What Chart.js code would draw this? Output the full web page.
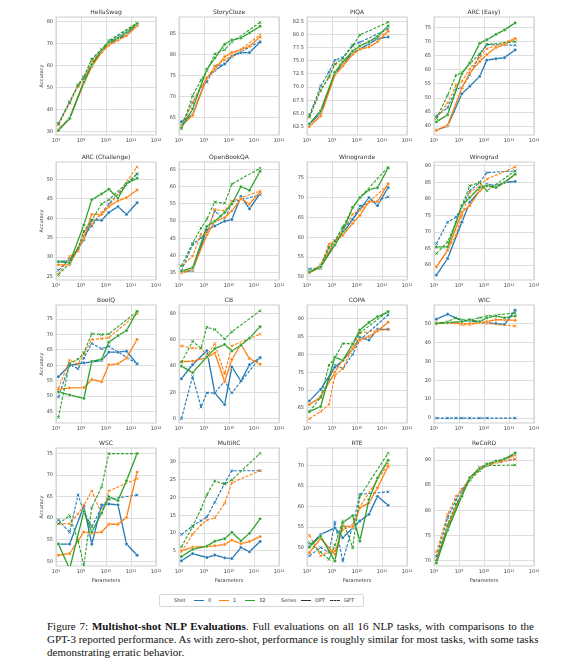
<!DOCTYPE html>
<html>
<head>
<meta charset="utf-8">
<script src="https://cdn.jsdelivr.net/npm/chart.js@4.4.1/dist/chart.umd.min.js"></script>
<style>
  body { margin: 0; background: #fff; width: 582px; height: 667px; position: relative; overflow: hidden; font-family: "DejaVu Sans", sans-serif; }
  canvas { position: absolute; }
  #legend { position: absolute; left: 159px; top: 594px; width: 203px; height: 11px; border: 1px solid #d6d6d6; border-radius: 2px; font-size: 5px; color: #333; }
  #legend span { position: absolute; top: 3px; line-height: 5px; }
  #legend i { position: absolute; top: 5px; width: 10px; height: 0; }
  #caption { position: absolute; left: 47px; top: 620px; width: 487px; font: 11px/13.2px "Liberation Serif", serif; color: #111; }
  #caption div { white-space: nowrap; text-align: justify; text-align-last: justify; }
  #caption div.last { text-align-last: left; }
</style>
</head>
<body>
<div id="legend">
  <span style="left:14px">Shot</span>
  <i style="left:34px;border-top:1.2px solid #1f77b4"></i><span style="left:48px">0</span>
  <i style="left:59px;border-top:1.2px solid #ff7f0e"></i><span style="left:73px">1</span>
  <i style="left:85px;border-top:1.2px solid #2ca02c"></i><span style="left:99px">32</span>
  <span style="left:121px">Series</span>
  <i style="left:141px;border-top:1.2px solid #333"></i><span style="left:155px">OPT</span>
  <i style="left:170px;border-top:1.2px dashed #333"></i><span style="left:184px">GPT</span>
</div>
<div id="caption">
  <div>Figure 7: <b>Multishot-shot NLP Evaluations</b>. Full evaluations on all 16 NLP tasks, with comparisons to the</div>
  <div>GPT-3 reported performance. As with zero-shot, performance is roughly similar for most tasks, with some tasks</div>
  <div class="last">demonstrating erratic behavior.</div>
</div>
<script>
// model sizes (parameters)
const optSizes = [1.25e8, 3.5e8, 1.3e9, 2.7e9, 6.7e9, 1.3e10, 3e10, 6.6e10, 1.75e11];
const gptSizes = [1.25e8, 3.5e8, 7.6e8, 1.3e9, 2.7e9, 6.7e9, 1.3e10, 1.75e11];
const shotNames = ['0', '1', '32'];
const shotColors = ['#1f77b4', '#ff7f0e', '#2ca02c'];
const xTicks = [1e8, 1e9, 1e10, 1e11, 1e12];
const xTickLabels = ['10⁸', '10⁹', '10¹⁰', '10¹¹', '10¹²'];

const taskNames = ['HellaSwag', 'StoryCloze', 'PIQA', 'ARC (Easy)',
  'ARC (Challenge)', 'OpenBookQA', 'Winogrande', 'Winograd',
  'BoolQ', 'CB', 'COPA', 'WIC',
  'WSC', 'MultiRC', 'RTE', 'ReCoRD'];

// rows: shot 0, 1, 32
const hellaswagOPT = [[31, 36, 52.5, 60, 66.5, 69.5, 72, 74, 78.5], [30.8, 36, 52, 59.5, 66, 69.2, 71.5, 73.5, 78], [30.5, 36, 52.5, 60.5, 67, 70.5, 72.5, 75, 79]];
const hellaswagGPT = [[33.7, 43.6, 51.0, 54.7, 62.8, 67.4, 70.9, 78.9], [33.0, 42.9, 50.5, 53.5, 61.9, 66.5, 70.0, 78.1], [33.5, 43.1, 51.3, 54.9, 62.9, 67.3, 71.3, 79.3]];
const storyclozeOPT = [[64, 65.7, 74.5, 76.2, 77.8, 79.7, 80.5, 80.5, 83], [63, 65.5, 74.5, 76.5, 79.5, 80.5, 81.2, 82, 84.2], [62.5, 67, 76.5, 79.2, 82.5, 83.5, 84, 85.2, 86.8]];
const storyclozeGPT = [[63.3, 68.5, 72.4, 73.4, 77.2, 77.7, 79.5, 83.2], [62.3, 68.7, 72.3, 74.2, 77.3, 78.7, 79.7, 84.7], [62.3, 70.2, 73.9, 76.1, 80.2, 81.2, 83.0, 87.7]];
const piqaOPT = [[63, 65, 72.5, 74.3, 76.5, 77.2, 78.2, 79.2, 79.5], [62.5, 64.5, 72.3, 74, 76.2, 77.2, 77.6, 78.6, 80.6], [63, 65.5, 72.8, 74.8, 76.8, 77.8, 78.6, 79.6, 81.6]];
const piqaGPT = [[64.6, 70.2, 72.9, 75.1, 75.6, 78.0, 78.5, 81.0], [64.3, 69.3, 71.8, 74.4, 74.3, 76.9, 77.8, 80.5], [64.3, 69.4, 72.0, 74.3, 75.4, 77.8, 79.9, 82.3]];
const arcEasyOPT = [[38.5, 40, 51.5, 54.2, 57.7, 63.5, 64, 64.4, 67.1], [38.5, 40.3, 53.5, 59, 63, 65.5, 68, 69, 71.2], [41.5, 44, 58.7, 62.5, 69.5, 70.8, 72.7, 74.3, 76.8]];
const arcEasyGPT = [[43.6, 46.5, 53.0, 53.8, 58.2, 65.3, 69.1, 68.8], [42.7, 48.2, 54.6, 55.9, 60.3, 64.5, 67.6, 71.2], [42.7, 51.0, 58.1, 59.1, 62.1, 65.8, 69.1, 70.1]];
const arcChallengeOPT = [[28.9, 29, 34.5, 39.5, 39.5, 41.5, 43, 41, 44], [28, 28, 35, 41, 41, 43, 44.5, 45.3, 47.3], [28.8, 28.5, 38.3, 44.8, 46.3, 47.5, 45.2, 49, 50.3]];
const arcChallengeGPT = [[26.6, 29.5, 31.8, 35.5, 38.0, 41.4, 43.7, 51.4], [25.5, 30.2, 31.6, 36.4, 38.4, 41.5, 43.1, 53.2], [25.5, 28.4, 32.3, 36.7, 39.5, 43.7, 44.8, 51.5]];
const openbookOPT = [[35.2, 35.6, 47.5, 48.6, 50, 50.5, 57.2, 53.6, 58], [35, 36, 46, 50, 51, 53, 56.5, 55, 58.5], [35.5, 36.5, 48.5, 50, 52.5, 55, 60, 59, 64.5]];
const openbookGPT = [[35.6, 43.2, 45.2, 46.8, 53.0, 50.4, 55.6, 57.6], [37.0, 39.8, 46.2, 46.4, 53.4, 53.0, 55.8, 58.8], [37.0, 43.6, 48.0, 50.6, 55.6, 55.2, 60.8, 65.4]];
const winograndeOPT = [[51, 52.8, 58.5, 61, 64.5, 67, 70, 68, 72.5], [51, 52.5, 59, 60.5, 63.5, 65.5, 69, 69, 73.5], [51.2, 52.5, 58, 61.5, 67.5, 70, 72, 72.5, 77.5]];
const winograndeGPT = [[52.0, 52.1, 57.4, 58.7, 62.3, 64.5, 67.9, 70.2], [51.3, 53.0, 58.3, 59.1, 61.7, 65.8, 66.9, 73.2], [51.3, 52.6, 57.5, 59.1, 62.6, 67.4, 70.0, 77.7]];
const winogradOPT = [[57, 62, 73, 79, 82.5, 84.5, 84, 85, 85.3], [59.5, 64.5, 76, 78, 82.5, 84, 83.5, 85, 87.5], [65.5, 65.5, 78, 80.5, 83.5, 84, 83.5, 85, 87.5]];
const winogradGPT = [[66.5, 73, 74.5, 77.5, 82.5, 85, 88, 88.5], [59.5, 64.5, 69, 75, 82, 84, 86, 89.7], [63.5, 67, 73, 78, 84, 85, 82.5, 88.5]];
const boolqOPT = [[56.3, 60, 60.8, 61.1, 61.6, 64.3, 64.3, 64.6, 60.5], [52.2, 52.7, 52.8, 55.4, 54.7, 60.2, 60.5, 62.4, 68.4], [51.4, 50.4, 49.3, 61.3, 62, 67.5, 69.6, 71.3, 77.5]];
const boolqGPT = [[49.7, 60.3, 58.9, 62.4, 67.1, 65.4, 66.2, 60.5], [52.6, 61.7, 60.4, 63.7, 68.4, 68.7, 69.0, 76.7], [43.1, 60.6, 62.0, 64.1, 70.3, 70.0, 70.2, 77.5]];
const cbOPT = [[30.4, 41, 51.8, 19.6, 10.7, 39.3, 28.6, 41, 46.4], [43.3, 43.8, 46.5, 50, 28.3, 45, 56.5, 45.8, 41.5], [40, 35, 47, 53.3, 56.5, 51.5, 55.8, 61.3, 70]];
const cbGPT = [[0, 32.1, 8.9, 19.6, 19.6, 28.6, 19.6, 46.4], [55.4, 53.6, 53.6, 48.2, 57.1, 33.9, 55.4, 64.3], [42.9, 58.9, 53.6, 69.6, 67.9, 60.7, 66.1, 82.1]];
const copaOPT = [[67, 70.2, 76.4, 78.3, 81.5, 84.7, 84, 87, 87], [66, 68, 75, 78.5, 81.5, 84, 85, 86.5, 89], [64, 65.4, 79.2, 78.3, 82.9, 86.8, 88.9, 90.5, 91.9]];
const copaGPT = [[66, 68, 73, 77, 76, 80, 84, 91], [62, 64, 66, 74, 76, 82, 86, 87], [64, 68, 77, 79, 83, 83, 86, 92]];
const wicOPT = [[52.3, 54.9, 51.4, 51.5, 50.5, 50.5, 50, 49.5, 57], [50.5, 50.5, 50, 50, 50.5, 51, 52, 52, 51.7], [50, 50.5, 51, 52, 51, 53, 54, 53, 54]];
const wicGPT = [[0, 0, 0, 0, 0, 0, 0, 0], [50.0, 50.3, 50.3, 49.2, 49.4, 50.3, 50.0, 48.6], [50, 51, 53, 52, 52, 53, 54, 55.6]];
const wscOPT = [[54, 54, 62.8, 54, 63.1, 63.3, 63.1, 54, 51.4], [51.4, 51.8, 56.8, 56.5, 56.8, 58.6, 58.6, 60.2, 70.7], [54, 48.2, 61.6, 56.8, 61.2, 65, 64.1, 68.7, 75]];
const wscGPT = [[59.6, 56.7, 65.4, 61.5, 58, 62.5, 64.4, 65.4], [58.7, 58.7, 61, 63, 66.3, 61, 66.3, 69.2], [58.7, 60.6, 54.8, 49.0, 62.5, 67.3, 75.0, 75.0]];
const multircOPT = [[2.2, 4.2, 3.1, 3.8, 3, 2.8, 5.9, 4.7, 7.6], [5, 6, 6.2, 6.4, 6.8, 8, 7, 7.6, 9], [3.4, 5.4, 6.3, 7.7, 8.4, 10.2, 7.8, 9.9, 14]];
const multircGPT = [[9.6, 12, 13.5, 14.5, 18.7, 24, 27.6, 27.6], [4.7, 9.7, 12.3, 13.6, 14.3, 18.4, 24.2, 27.6], [6.1, 11.8, 16.8, 20.8, 24.7, 23.8, 25.0, 32.5]];
const rteOPT = [[50.4, 53.2, 54.8, 52.4, 54.8, 56.5, 58.1, 62.5, 60.3], [48.8, 52.2, 48.4, 55.3, 55.1, 59.7, 60.9, 64.6, 69.8], [50.1, 52.8, 46.7, 56.1, 57.8, 51.6, 61.7, 67, 71.3]];
const rteGPT = [[48, 50, 48.8, 56.1, 46.7, 55.3, 63, 63.6], [53, 48, 49, 49.2, 54.4, 55.3, 60, 70.4], [51.2, 48.9, 47.1, 50.6, 56.5, 50, 62.5, 73]];
const recordOPT = [[70, 76.5, 83.5, 86.5, 88.3, 89, 89.7, 90.2, 91.2], [70, 76.8, 83.2, 86.3, 88.2, 89, 89.6, 90, 91], [69.5, 76, 82.8, 86.5, 88.3, 89.2, 89.8, 90.2, 91.4]];
const recordGPT = [[70.8, 78.5, 82.1, 84.1, 86.2, 88.6, 89.0, 90.2], [71.7, 79.2, 82.8, 84.2, 86.3, 88.6, 89.0, 90.2], [69.8, 77.2, 81.3, 83.1, 86.0, 87.9, 88.9, 89.0]];

const optScores = [hellaswagOPT, storyclozeOPT, piqaOPT, arcEasyOPT, arcChallengeOPT, openbookOPT, winograndeOPT, winogradOPT,
  boolqOPT, cbOPT, copaOPT, wicOPT, wscOPT, multircOPT, rteOPT, recordOPT];
const gptScores = [hellaswagGPT, storyclozeGPT, piqaGPT, arcEasyGPT, arcChallengeGPT, openbookGPT, winograndeGPT, winogradGPT,
  boolqGPT, cbGPT, copaGPT, wicGPT, wscGPT, multircGPT, rteGPT, recordGPT];

const yTickValues = [
  [30, 40, 50, 60, 70, 80], [65, 70, 75, 80, 85], [62.5, 65, 67.5, 70, 72.5, 75, 77.5, 80, 82.5], [40, 45, 50, 55, 60, 65, 70, 75],
  [25, 30, 35, 40, 45, 50], [35, 40, 45, 50, 55, 60, 65], [50, 55, 60, 65, 70, 75], [60, 65, 70, 75, 80, 85, 90],
  [45, 50, 55, 60, 65, 70, 75], [0, 20, 40, 60, 80], [65, 70, 75, 80, 85, 90], [0, 10, 20, 30, 40, 50],
  [50, 55, 60, 65, 70, 75], [5, 10, 15, 20, 25, 30], [50, 55, 60, 65, 70], [70, 75, 80, 85, 90]
];
const yLimits = [
  [28.5, 82], [60.8, 89], [60.9, 83.3], [36.8, 78.9],
  [24.1, 54.5], [32.9, 67.2], [49.2, 79], [55.5, 91.2],
  [41.3, 79.6], [-3.3, 86.5], [60.8, 93.8], [-2.6, 59.8],
  [48.9, 76.3], [0.7, 34], [45.5, 74.3], [68.9, 92.4]
];

// panel placement
const colLeft = [56, 179, 307, 434];
const rowTop = [17, 162, 305, 448];
const plotW = 100, plotH = 118;
const gridColor = '#dedede';
const tickFont = { size: 5, family: 'DejaVu Sans' };

const decoPlugin = {
  id: 'deco',
  beforeDatasetsDraw(chart) {
    const a = chart.chartArea, ctx = chart.ctx;
    ctx.save();
    ctx.strokeStyle = '#cfcfcf';
    ctx.lineWidth = 1;
    ctx.strokeRect(a.left, a.top, a.right - a.left, a.bottom - a.top);
    ctx.restore();
  },
  afterDraw(chart, args, opts) {
    const a = chart.chartArea, ctx = chart.ctx;
    ctx.save();
    ctx.fillStyle = '#333';
    ctx.textAlign = 'center';
    ctx.font = '6px "DejaVu Sans"';
    ctx.textBaseline = 'bottom';
    ctx.fillText(opts.title, (a.left + a.right) / 2, a.top - 2);
    ctx.font = '5px "DejaVu Sans"';
    if (opts.xlabel) {
      ctx.textBaseline = 'top';
      ctx.fillText('Parameters', (a.left + a.right) / 2, a.bottom + 12);
    }
    if (opts.ylabel) {
      ctx.translate(a.left - 14, (a.top + a.bottom) / 2);
      ctx.rotate(-Math.PI / 2);
      ctx.textBaseline = 'middle';
      ctx.fillText('Accuracy', 0, 0);
    }
    ctx.restore();
  }
};

taskNames.forEach((name, i) => {
  const r = Math.floor(i / 4), c = i % 4;
  const padL = 26, padR = 14, padT = 12, padB = r === 3 ? 26 : 16;
  const cv = document.createElement('canvas');
  cv.width = plotW + padL + padR;
  cv.height = plotH + padT + padB;
  cv.style.left = (colLeft[c] - padL) + 'px';
  cv.style.top = (rowTop[r] - padT) + 'px';
  document.body.appendChild(cv);

  const datasets = [];
  shotNames.forEach((shot, s) => {
    datasets.push({
      label: shot + ' OPT',
      data: optSizes.map((x, k) => ({ x: x, y: optScores[i][s][k] })),
      borderColor: shotColors[s], backgroundColor: shotColors[s],
      borderWidth: 1.3, pointStyle: 'circle', pointRadius: 1.7,
      pointBackgroundColor: shotColors[s], pointBorderColor: '#fff', pointBorderWidth: 0.5,
      showLine: true, order: 2 - s
    });
    datasets.push({
      label: shot + ' GPT',
      data: gptSizes.map((x, k) => ({ x: x, y: gptScores[i][s][k] })),
      borderColor: shotColors[s], backgroundColor: shotColors[s],
      borderWidth: 1.1, borderDash: [3, 1.5], pointStyle: 'crossRot', pointRadius: 1.9,
      pointBorderColor: shotColors[s], pointBorderWidth: 0.9,
      showLine: true, order: 2 - s
    });
  });

  new Chart(cv, {
    type: 'scatter',
    data: { datasets: datasets },
    options: {
      responsive: false, animation: false, devicePixelRatio: 1,
      layout: { padding: { left: 0, right: padR, top: padT, bottom: 0 } },
      plugins: {
        legend: { display: false }, tooltip: { enabled: false },
        deco: { title: name, xlabel: r === 3, ylabel: c === 0 }
      },
      scales: {
        x: {
          type: 'logarithmic', min: 1e8, max: 1e12,
          afterBuildTicks: sc => { sc.ticks = xTicks.map(v => ({ value: v })); },
          afterFit: sc => { sc.height = padB; },
          grid: { color: gridColor, lineWidth: 1, drawTicks: false },
          border: { display: false },
          ticks: { font: tickFont, color: '#444', padding: 3, maxRotation: 0, autoSkip: false,
            callback: (v, idx) => xTickLabels[idx] }
        },
        y: {
          min: yLimits[i][0], max: yLimits[i][1],
          afterBuildTicks: sc => { sc.ticks = yTickValues[i].map(v => ({ value: v })); },
          afterFit: sc => { sc.width = padL; },
          grid: { color: gridColor, lineWidth: 1, drawTicks: false },
          border: { display: false },
          ticks: { font: tickFont, color: '#444', padding: 3, autoSkip: false,
            callback: v => (i === 2 ? v.toFixed(1) : String(v)) }
        }
      }
    },
    plugins: [decoPlugin]
  });
});
</script>
</body>
</html>
